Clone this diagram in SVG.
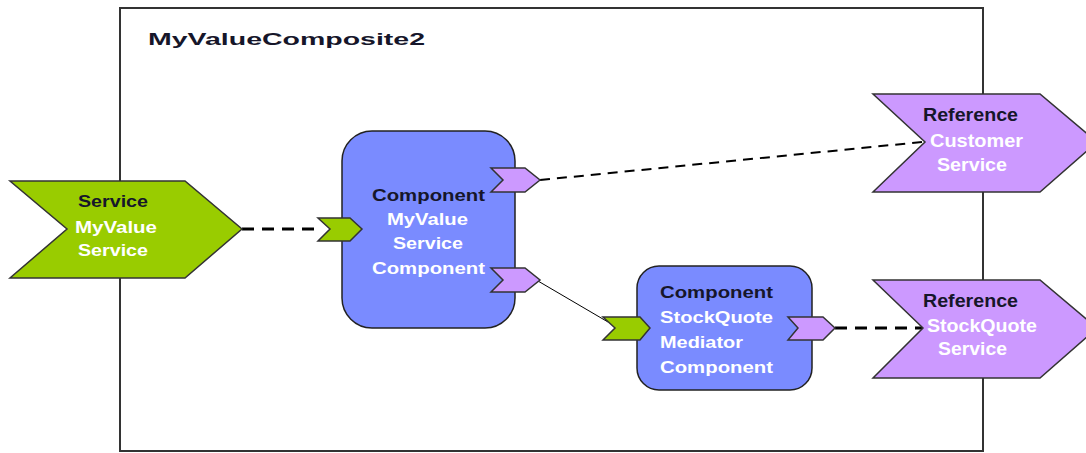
<svg xmlns="http://www.w3.org/2000/svg" width="1086" height="453" viewBox="0 0 1086 453">
  <style>
    .t { font-family: "Liberation Sans", Arial, sans-serif; font-weight: bold; font-size: 17px; }
    .big { font-size: 18.5px; }
    .dark { fill: #16162a; }
    .light { fill: #ffffff; }
    .svc { fill: #99cc00; stroke: #333; stroke-width: 1.5; stroke-linejoin: miter; }
    .ref { fill: #cc99ff; stroke: #333; stroke-width: 1.5; }
    .comp { fill: #7a8bff; stroke: #222; stroke-width: 1.5; }
    .wire { fill: none; stroke: #000; }
  </style>

  <!-- composite boundary -->
  <g id="composite">
    <rect x="120" y="8" width="863" height="443" fill="#fff" stroke="#333" stroke-width="2"/>
    <text class="t dark" x="148" y="45" font-size="22.5" textLength="277" lengthAdjust="spacingAndGlyphs">MyValueComposite2</text>
  </g>

  <!-- wires -->
  <g id="connectors">
    <line class="wire" x1="242" y1="229" x2="322" y2="229" stroke-width="3" stroke-dasharray="12 8"/>
    <line class="wire" x1="540" y1="180" x2="922" y2="142" stroke-width="2" stroke-dasharray="10 7"/>
    <line class="wire" x1="538" y1="281" x2="608" y2="322" stroke-width="1"/>
    <line class="wire" x1="835" y1="328" x2="922" y2="328" stroke-width="3" stroke-dasharray="12 8"/>
  </g>

  <!-- promoted service -->
  <g id="service-myvalue">
    <polygon class="svc" points="10,181 185,181 242,229 185,278 10,278 67,229"/>
    <text class="t dark" x="78" y="207" textLength="70" lengthAdjust="spacingAndGlyphs">Service</text>
    <text class="t light" x="75" y="233" textLength="82" lengthAdjust="spacingAndGlyphs">MyValue</text>
    <text class="t light" x="78" y="256" textLength="70" lengthAdjust="spacingAndGlyphs">Service</text>
  </g>

  <!-- MyValueServiceComponent -->
  <g id="component-myvalue">
    <rect class="comp" x="342" y="131" width="173" height="197" rx="30" ry="30"/>
    <polygon class="svc" points="318,218 350,218 362,229 350,241 318,241 330,229"/>
    <polygon class="ref" points="491,168 525,168 540,180 525,192 491,192 503,180"/>
    <polygon class="ref" points="491,268 525,268 540,280 525,292 491,292 503,280"/>
    <text class="t dark" x="372" y="201" textLength="113" lengthAdjust="spacingAndGlyphs">Component</text>
    <text class="t light" x="387" y="225" textLength="81" lengthAdjust="spacingAndGlyphs">MyValue</text>
    <text class="t light" x="393" y="249" textLength="70" lengthAdjust="spacingAndGlyphs">Service</text>
    <text class="t light" x="372" y="274" textLength="113" lengthAdjust="spacingAndGlyphs">Component</text>
  </g>

  <!-- StockQuoteMediatorComponent -->
  <g id="component-stockquote">
    <rect class="comp" x="637" y="266" width="175" height="124" rx="22" ry="22"/>
    <polygon class="svc" points="603,317 640,317 650,328 640,340 603,340 615,328"/>
    <polygon class="ref" points="788,317 823,317 835,328 823,340 788,340 798,328"/>
    <text class="t dark" x="660" y="298" textLength="113" lengthAdjust="spacingAndGlyphs">Component</text>
    <text class="t light" x="660" y="323" textLength="113" lengthAdjust="spacingAndGlyphs">StockQuote</text>
    <text class="t light" x="660" y="348" textLength="83" lengthAdjust="spacingAndGlyphs">Mediator</text>
    <text class="t light" x="660" y="373" textLength="113" lengthAdjust="spacingAndGlyphs">Component</text>
  </g>

  <!-- promoted references -->
  <g id="reference-customer">
    <polygon class="ref" points="873,94 1040,94 1097,142 1040,192 873,192 925,142"/>
    <text class="t big dark" x="923" y="121" textLength="95" lengthAdjust="spacingAndGlyphs">Reference</text>
    <text class="t big light" x="930" y="147" textLength="93" lengthAdjust="spacingAndGlyphs">Customer</text>
    <text class="t big light" x="937" y="171" textLength="70" lengthAdjust="spacingAndGlyphs">Service</text>
  </g>

  <g id="reference-stockquote">
    <polygon class="ref" points="873,280 1040,280 1097,328 1040,378 873,378 923,328"/>
    <text class="t big dark" x="923" y="307" textLength="95" lengthAdjust="spacingAndGlyphs">Reference</text>
    <text class="t big light" x="927" y="332" textLength="110" lengthAdjust="spacingAndGlyphs">StockQuote</text>
    <text class="t big light" x="938" y="355" textLength="69" lengthAdjust="spacingAndGlyphs">Service</text>
  </g>
</svg>
